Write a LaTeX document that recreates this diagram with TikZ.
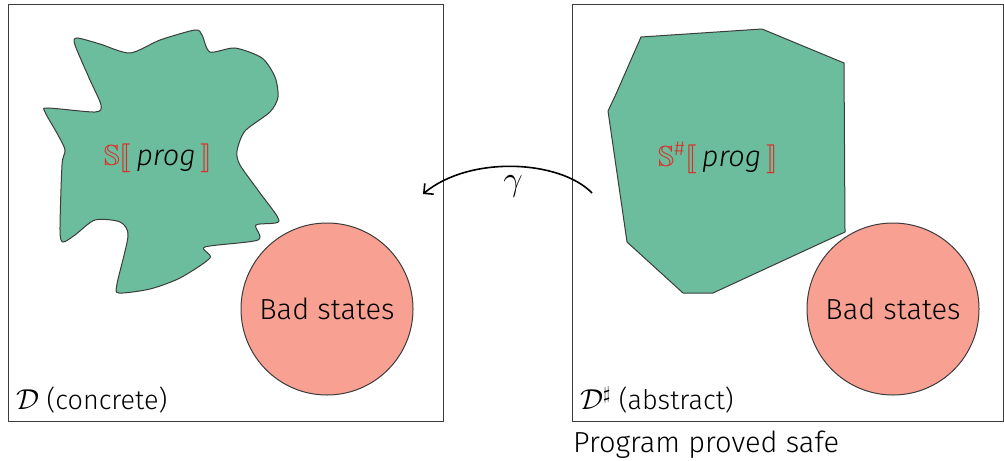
\documentclass[tikz,border=0pt]{standalone}
\usepackage{amsmath,amssymb}
\usepackage{stmaryrd}
\usepackage{fontspec}
\setmainfont{Fira Sans}[UprightFont=* Light, ItalicFont=* Light Italic]
\usetikzlibrary{arrows.meta}
\definecolor{blobgreen}{RGB}{107,189,158}
\definecolor{badred}{RGB}{248,161,146}
\definecolor{semred}{RGB}{222,45,38}
\definecolor{edgegray}{RGB}{60,60,60}
\tikzset{
  domainbox/.style={draw=edgegray, line width=0.5pt},
  region/.style={draw=edgegray, fill=blobgreen, line width=0.5pt},
  badset/.style={circle, draw=edgegray, fill=badred, line width=0.5pt, minimum size=86pt, inner sep=0pt, font=\fontsize{14.5}{17}\selectfont},
  semlabel/.style={font=\fontsize{14.5}{17}\selectfont},
  domlabel/.style={anchor=west, font=\fontsize{13.5}{16}\selectfont},
  gammaarrow/.style={-{Straight Barb[length=3.5pt,width=7pt]}, line width=0.8pt},
}
\newcommand{\semS}[1]{\textcolor{semred}{$#1$}}
\begin{document}
\begin{tikzpicture}[x=0.5pt,y=-0.5pt]
\useasboundingbox (0,0) rectangle (1004,460);
% boxes
\draw[domainbox] (8,5) rectangle (443,421);
\draw[domainbox] (572,5) rectangle (1003,421);
% concrete blob
\draw[region] plot[smooth cycle, tension=0.45] coordinates {
 (77,38) (100,44) (130,53) (160,40) (195,30) (202,35) (210,52) (235,48) (262,58) (275,77) (278,97) (270,112) (245,131) (237,151) (240,165) (260,193) (279,221) (256,225) (258,240) (205,247) (210,258) (180,278) (150,289) (119,293) (117,284) (128,236) (120,222) (95,220) (75,235) (63,242) (60,230) (62,165) (65,150) (58,135) (45,112) (48,108) (95,112) (101,105) (90,80) (75,45)};
% abstract polygon
\draw[region, line join=round] (641,37) -- (762,29) -- (844,63) -- (845,232) -- (713,293) -- (683,293) -- (627,242) -- (608,111) -- (616,94) -- cycle;
% labels
\node[semlabel] (conc) at (158,158) {\semS{\mathbb{S}\llbracket}\,\textit{prog}\,\semS{\rrbracket}};
\node[semlabel] (abst) at (718,158) {\semS{\mathbb{S}^{\#}\llbracket}\,\textit{prog}\,\semS{\rrbracket}};
% bad states
\node[badset] (badL) at (327,309) {Bad states};
\node[badset] (badR) at (893,309) {Bad states};
% domain labels
\node[domlabel] (dL) at (9,400) {$\mathcal{D}$ (concrete)};
\node[domlabel] (dR) at (573,400) {$\mathcal{D}^\sharp$ (abstract)};
\node[anchor=west, font=\fontsize{14.5}{17}\selectfont] (safe) at (566,445) {Program proved safe};
% gamma arrow
\coordinate (gs) at (592,193);
\coordinate (ge) at (423,194);
\draw[gammaarrow] (gs) .. controls (560,160) and (470,155) .. (ge) node[pos=0.5, below=1pt, font=\fontsize{16}{18}\selectfont] (gam) {$\gamma$};
\end{tikzpicture}
\end{document}
